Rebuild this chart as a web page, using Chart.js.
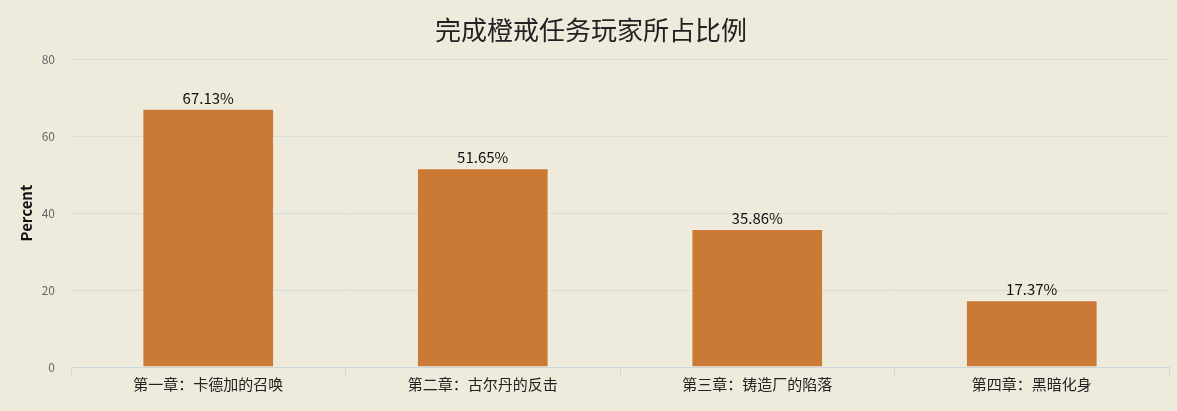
<!DOCTYPE html>
<html><head><meta charset="utf-8">
<script src="https://cdn.jsdelivr.net/npm/chart.js@4"></script>
<style>html,body{margin:0;padding:0;background:#EEEBDC;}#wrap{width:1177px;height:411px;}</style>
</head><body><div id="wrap"><canvas id="c" width="1177" height="411"></canvas></div>
<script>
const categories = ["第一章：卡德加的召唤", "第二章：古尔丹的反击", "第三章：铸造厂的陷落", "第四章：黑暗化身"];
const percentValues = [67.13, 51.65, 35.86, 17.37];
const yTicks = [0, 20, 40, 60, 80];
const titleText = "完成橙戒任务玩家所占比例";
const yTitle = "Percent";

const FONT = '"Noto Sans CJK SC", "Noto Sans", sans-serif';

const bgPlugin = {
  id: 'bg',
  beforeDraw(chart) {
    const ctx = chart.ctx;
    ctx.save();
    ctx.fillStyle = '#EEEBDC';
    ctx.fillRect(0, 0, chart.width, chart.height);
    ctx.restore();
  }
};
const labelPlugin = {
  id: 'vlabels',
  afterDatasetsDraw(chart) {
    const ctx = chart.ctx;
    const meta = chart.getDatasetMeta(0);
    ctx.save();
    ctx.font = '15px ' + FONT;
    ctx.fillStyle = '#111';
    ctx.textAlign = 'center';
    ctx.textBaseline = 'bottom';
    meta.data.forEach((bar, i) => {
      ctx.fillText(percentValues[i].toFixed(2) + '%', bar.x, bar.y - 3);
    });
    ctx.restore();
  }
};

new Chart(document.getElementById('c'), {
  type: 'bar',
  data: {
    labels: categories,
    datasets: [{
      data: percentValues,
      backgroundColor: '#CB7A35',
      borderColor: '#F4F0E6',
      borderWidth: 1,
      barPercentage: 0.48,
      categoryPercentage: 1.0
    }]
  },
  options: {
    responsive: false,
    animation: false,
    devicePixelRatio: 1,
    layout: { padding: { left: 13, right: 8, top: 0, bottom: 18 } },
    plugins: {
      legend: { display: false },
      tooltip: { enabled: false },
      title: {
        display: true,
        text: titleText,
        color: '#222',
        font: { family: FONT, size: 26, weight: 'normal' },
        padding: { top: 15, bottom: 13 }
      }
    },
    scales: {
      x: {
        grid: { offset: true, drawOnChartArea: false, drawTicks: true, tickLength: 8, color: '#CCD6DB' },
        border: { display: true, color: '#CCD6DB', width: 1 },
        ticks: { color: '#222', font: { family: FONT, size: 15 }, padding: 0 }
      },
      y: {
        min: 0, max: 80,
        afterBuildTicks(scale) { scale.ticks = yTicks.map(v => ({ value: v })); },
        afterFit(scale) { scale.width = 58; },
        grid: { color: '#DCDCD2', drawTicks: false },
        border: { display: false },
        ticks: { color: '#666', font: { family: FONT, size: 12 }, padding: 16 },
        title: { display: true, text: yTitle, color: '#111', font: { family: FONT, size: 15, weight: 'bold' }, padding: 4 }
      }
    }
  },
  plugins: [bgPlugin, labelPlugin]
});
</script></body></html>
